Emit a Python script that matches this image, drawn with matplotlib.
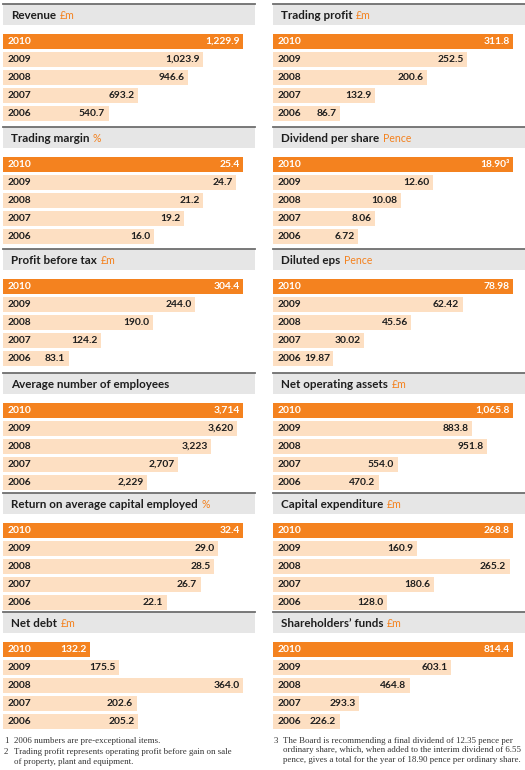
import matplotlib
matplotlib.use("Agg")
import matplotlib.pyplot as plt

plt.rcParams['font.family'] = ['Lato', 'DejaVu Sans']

years = ["2010", "2009", "2008", "2007", "2006"]

titles = [
    "Revenue", "Trading profit",
    "Trading margin", "Dividend per share",
    "Profit before tax", "Diluted eps",
    "Average number of employees", "Net operating assets",
    "Return on average capital employed", "Capital expenditure",
    "Net debt", "Shareholders\u2019 funds",
]
units = ["£m", "£m", "%", "Pence", "£m", "Pence", "", "£m", "%", "£m", "£m", "£m"]

revenue = [1229.9, 1023.9, 946.6, 693.2, 540.7]
trading_profit = [311.8, 252.5, 200.6, 132.9, 86.7]
trading_margin = [25.4, 24.7, 21.2, 19.2, 16.0]
dividend = [18.90, 12.60, 10.08, 8.06, 6.72]
profit_before_tax = [304.4, 244.0, 190.0, 124.2, 83.1]
diluted_eps = [78.98, 62.42, 45.56, 30.02, 19.87]
employees = [3714, 3620, 3223, 2707, 2229]
net_op_assets = [1065.8, 883.8, 951.8, 554.0, 470.2]
roce = [32.4, 29.0, 28.5, 26.7, 22.1]
capex = [268.8, 160.9, 265.2, 180.6, 128.0]
net_debt = [132.2, 175.5, 364.0, 202.6, 205.2]
shareholders_funds = [814.4, 603.1, 464.8, 293.3, 226.2]

series = [revenue, trading_profit, trading_margin, dividend, profit_before_tax,
          diluted_eps, employees, net_op_assets, roce, capex, net_debt,
          shareholders_funds]
formats = ["{:,.1f}", "{:,.1f}", "{:.1f}", "{:.2f}", "{:.1f}", "{:.2f}",
           "{:,.0f}", "{:,.1f}", "{:.1f}", "{:.1f}", "{:.1f}", "{:.1f}"]
superscripts = {(3, 0): "\u00b3"}

footnotes_left = ["1", "2006 numbers are pre-exceptional items.",
                  "2", "Trading profit represents operating profit before gain on sale\nof property, plant and equipment."]
footnotes_right = ["3", "The Board is recommending a final dividend of 12.35 pence per\n"
                        "ordinary share, which, when added to the interim dividend of 6.55\n"
                        "pence, gives a total for the year of 18.90 pence per ordinary share."]

ORANGE = "#F4821F"
PEACH = "#FDDFC2"
GREY = "#E6E6E6"
DARK = "#1E1E1E"

W, H = 525, 770
fig = plt.figure(figsize=(W / 100, H / 100), dpi=100)


def fx(px):
    return px / W


def fy(px_top, px_h):
    return 1 - (px_top + px_h) / H


row_tops = [4, 127, 249, 373, 493, 612]
col_lefts = [3, 273]

for k, (title, unit, vals, fmt) in enumerate(zip(titles, units, series, formats)):
    r, c = divmod(k, 2)
    top = row_tops[r]
    x0 = col_lefts[c]

    # header band
    hax = fig.add_axes([fx(x0), fy(top, 21), fx(252), 21 / H])
    hax.set_facecolor(GREY)
    hax.set_xlim(0, 1)
    hax.set_ylim(0, 1)
    hax.set_xticks([])
    hax.set_yticks([])
    for s in ["left", "right", "bottom"]:
        hax.spines[s].set_visible(False)
    hax.spines["top"].set_color("#6E6E6E")
    hax.spines["top"].set_linewidth(1.3)
    t = hax.text(8 / 252, 0.45, title, fontsize=8.4, fontweight="bold", color=DARK,
                 va="center", ha="left")
    if unit:
        hax.annotate(unit, xy=(1, 0), xycoords=t, xytext=(2.5, 0),
                     textcoords="offset points", fontsize=7.6, color=ORANGE,
                     va="bottom", ha="left")

    # bars
    ax = fig.add_axes([fx(x0), fy(top + 28.5, 90), fx(240), 90 / H])
    colors = [ORANGE] + [PEACH] * 4
    ax.barh(range(5), vals, height=15 / 18, color=colors, left=0)
    ax.set_xlim(0, max(vals))
    ax.set_ylim(4.5, -0.5)
    ax.axis("off")
    for i, (yr, v) in enumerate(zip(years, vals)):
        tc = "white" if i == 0 else DARK
        ax.annotate(yr, xy=(0, i), xytext=(3.2, 0), textcoords="offset points",
                    fontsize=7.4, fontweight="bold", color=tc, va="center", ha="left")
        lab = fmt.format(v) + superscripts.get((k, i), "")
        ax.annotate(lab, xy=(v, i), xytext=(-2.5, 0), textcoords="offset points",
                    fontsize=7.4, fontweight="bold", color=tc, va="center", ha="right")

serif = ["Liberation Serif", "DejaVu Serif"]
fs = 6.4
ls = 1.25
# left footnotes
fig.text(fx(4), 1 - 737 / H, footnotes_left[0], fontsize=fs, family=serif, color="#333", va="top")
fig.text(fx(14), 1 - 737 / H, footnotes_left[1], fontsize=fs, family=serif, color="#333", va="top")
fig.text(fx(4), 1 - 748 / H, footnotes_left[2], fontsize=fs, family=serif, color="#333", va="top")
fig.text(fx(14), 1 - 748 / H, footnotes_left[3], fontsize=fs, family=serif, color="#333", va="top",
         linespacing=ls)
# right footnote
fig.text(fx(274), 1 - 737 / H, footnotes_right[0], fontsize=fs, family=serif, color="#333", va="top")
fig.text(fx(283), 1 - 737 / H, footnotes_right[1], fontsize=fs, family=serif, color="#333", va="top",
         linespacing=ls)

fig.savefig("out.png", dpi=100, facecolor="white")
